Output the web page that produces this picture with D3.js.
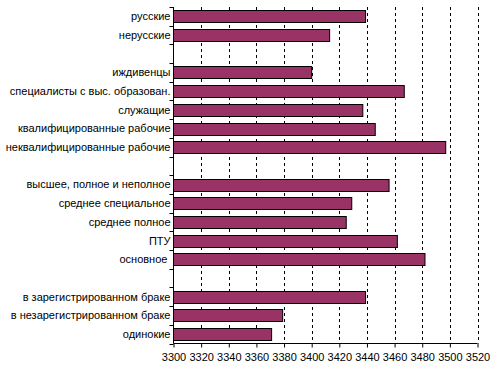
<!DOCTYPE html>
<html>
<head>
<meta charset="utf-8">
<script src="https://cdn.jsdelivr.net/npm/d3@7"></script>
<style>
  body { margin: 0; background: #fff; }
  text { font-family: "Liberation Sans", Arial, sans-serif; }
</style>
</head>
<body>
<script>
// categories (empty strings = gaps between groups)
const categories = [
  "русские", "нерусские", "",
  "иждивенцы", "специалисты с выс. образован.", "служащие",
  "квалифицированные рабочие", "неквалифицированные рабочие", "",
  "высшее, полное и неполное", "среднее специальное", "среднее полное",
  "ПТУ", "основное ", "",
  "в зарегистрированном браке", "в незарегистрированном браке", "одинокие"
];
const values = [
  3439, 3413, null,
  3400, 3467, 3437, 3446, 3497, null,
  3456, 3429, 3425, 3462, 3482, null,
  3439, 3379, 3371
];
const xTicks = [3300, 3320, 3340, 3360, 3380, 3400, 3420, 3440, 3460, 3480, 3500, 3520];

const w = 493, h = 370;
const mLeft = 173.5, mRight = 477.5, mTop = 7, mBottom = 343.5;

const svg = d3.select("body").append("svg")
  .attr("width", w).attr("height", h);

const xScale = d3.scaleLinear()
  .domain([3300, 3520])
  .range([mLeft, mRight]);

const yScale = d3.scaleBand()
  .domain(d3.range(categories.length))
  .range([mTop, mBottom])
  .paddingInner(0.36)
  .paddingOuter(0.18);

// dashed gridlines
svg.append("g")
  .selectAll("line")
  .data(xTicks.slice(1))
  .enter()
  .append("line")
  .attr("x1", d => Math.round(xScale(d)) + 0.5)
  .attr("x2", d => Math.round(xScale(d)) + 0.5)
  .attr("y1", mTop)
  .attr("y2", mBottom)
  .attr("stroke", "#000")
  .attr("stroke-dasharray", "3,3");

// bars
svg.append("g")
  .selectAll("rect")
  .data(values.map((v, i) => ({ i, v })).filter(d => d.v !== null))
  .enter()
  .append("rect")
  .attr("x", xScale(3300))
  .attr("y", d => Math.round(yScale(d.i)) + 0.5)
  .attr("width", d => xScale(d.v) - xScale(3300))
  .attr("height", Math.round(yScale.bandwidth()))
  .attr("fill", "#993366")
  .attr("stroke", "#000")
  .attr("stroke-width", 1);

// x axis
const xAxis = d3.axisBottom(xScale)
  .tickValues(xTicks)
  .tickSize(4)
  .tickPadding(6)
  .tickFormat(d3.format("d"));

const gx = svg.append("g")
  .attr("transform", "translate(0," + mBottom + ")")
  .call(xAxis);
gx.select(".domain").attr("d", "M" + mLeft + ",0H" + mRight);
gx.selectAll("text").attr("font-size", 11).attr("fill", "#000")
  .attr("font-family", "Liberation Sans, Arial, sans-serif");

// y axis: ticks at category boundaries
const gy = svg.append("g").attr("transform", "translate(" + mLeft + ",0)");
gy.append("line")
  .attr("x1", 0).attr("x2", 0)
  .attr("y1", mTop).attr("y2", mBottom)
  .attr("stroke", "#000");

const step = (mBottom - mTop) / categories.length;
gy.selectAll(".tk")
  .data(d3.range(categories.length + 1))
  .enter()
  .append("line")
  .attr("class", "tk")
  .attr("x1", -4).attr("x2", 0)
  .attr("y1", d => Math.round(mTop + d * step) + 0.5)
  .attr("y2", d => Math.round(mTop + d * step) + 0.5)
  .attr("stroke", "#000");

gy.selectAll(".lbl")
  .data(categories.map((c, i) => ({ c, i })).filter(d => d.c !== ""))
  .enter()
  .append("text")
  .attr("class", "lbl")
  .attr("x", -3)
  .attr("y", d => yScale(d.i) + yScale.bandwidth() / 2)
  .attr("dy", "0.35em")
  .attr("text-anchor", "end")
  .attr("font-size", 11)
  .style("white-space", "pre")
  .text(d => d.c);
</script>
</body>
</html>
